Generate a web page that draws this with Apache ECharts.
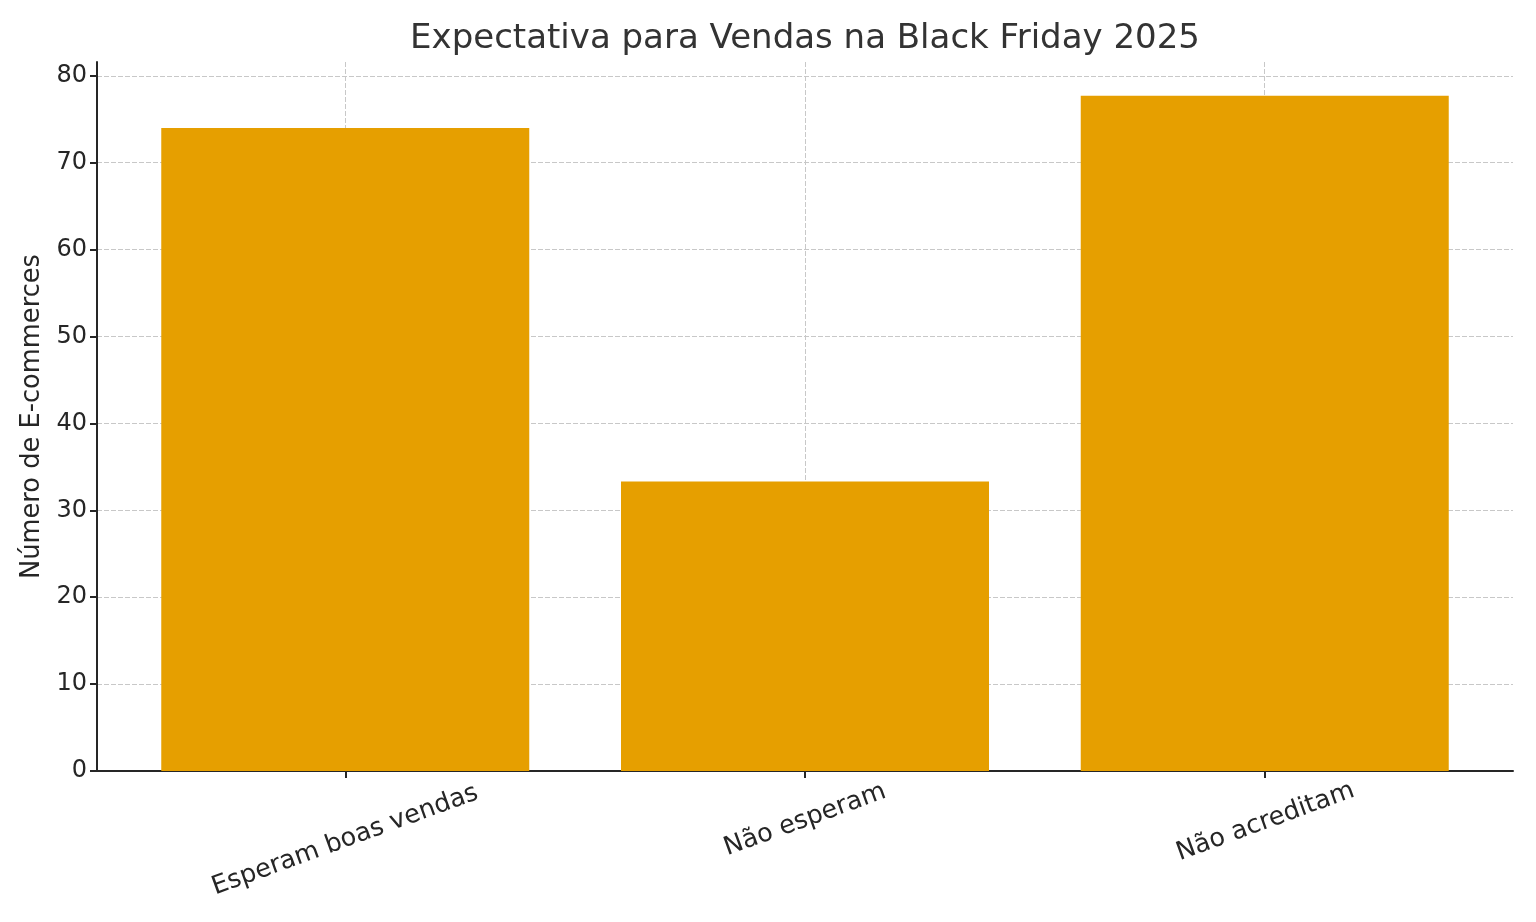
<!DOCTYPE html>
<html>
<head>
<meta charset="utf-8">
<script src="https://cdn.jsdelivr.net/npm/echarts@6/dist/echarts.min.js"></script>
<style>
  html, body { margin: 0; padding: 0; background: #fff; }
  #chart { width: 1536px; height: 922px; }
</style>
</head>
<body>
<div id="chart"></div>
<script>
// categories and values
var categories = ["Esperam boas vendas", "Não esperam", "Não acreditam"];
var values = [74, 33.3, 77.7];
var yTicks = [0, 10, 20, 30, 40, 50, 60, 70, 80];
var catIdx = [0, 1, 2];

var chart = echarts.init(document.getElementById('chart'));

var textCol = '#262626';
var gridLine = { show: true, lineStyle: { color: '#c8c8c8', width: 1, type: [5, 2] } };

// each label gets its own padding so the rotated box sits like matplotlib's top-aligned labels
var labelRich = {
    l0: { padding: [38, 14, 0, 0] },
    l1: { padding: [0, 0, 0, 0] },
    l2: { padding: [4, 0, 0, 0] }
};

var option = {
    animation: false,
    backgroundColor: '#ffffff',
    textStyle: { fontFamily: 'DejaVu Sans' },
    title: {
        text: 'Expectativa para Vendas na Black Friday 2025',
        left: 800,
        textAlign: 'center',
        top: 17,
        textStyle: { fontSize: 34, fontWeight: 'normal', color: '#333333', fontFamily: 'DejaVu Sans' }
    },
    grid: { left: 97, right: 23, top: 62, bottom: 151, containLabel: false },
    xAxis: {
        type: 'value',
        min: -0.54,
        max: 2.54,
        axisLine: { show: true, onZero: false, lineStyle: { color: textCol, width: 2 } },
        axisTick: { show: true, customValues: catIdx, length: 7, lineStyle: { color: textCol, width: 2 } },
        axisLabel: {
            customValues: catIdx,
            rotate: 20,
            align: 'center',
            verticalAlign: 'middle',
            margin: 49,
            fontSize: 25.5,
            color: textCol,
            fontFamily: 'DejaVu Sans',
            formatter: function (v) {
                var i = Math.round(v);
                return '{l' + i + '|' + categories[i] + '}';
            },
            rich: labelRich
        },
        splitLine: gridLine
    },
    yAxis: {
        type: 'value',
        min: 0,
        max: 81.585,
        name: 'Número de E-commerces',
        nameLocation: 'middle',
        nameGap: 50,
        nameTextStyle: { fontSize: 25.7, color: textCol, fontFamily: 'DejaVu Sans' },
        axisLine: { show: true, onZero: false, lineStyle: { color: textCol, width: 2 } },
        axisTick: { show: true, customValues: yTicks, length: 7, lineStyle: { color: textCol, width: 2 } },
        axisLabel: { customValues: yTicks, fontSize: 24, color: textCol, margin: 10, fontFamily: 'DejaVu Sans' },
        splitLine: gridLine
    },
    series: [{
        type: 'bar',
        data: values.map(function (v, i) { return [catIdx[i], v]; }),
        barWidth: 368,
        itemStyle: { color: '#E69F00' },
        z: 1
    }]
};

chart.setOption(option);
</script>
</body>
</html>
